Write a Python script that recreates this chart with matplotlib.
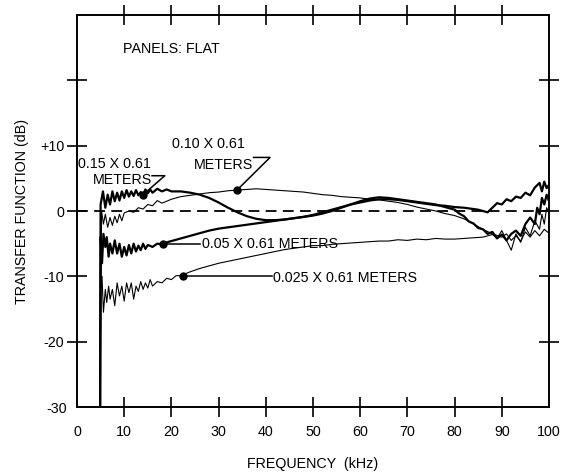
import matplotlib
matplotlib.use("Agg")
import matplotlib.pyplot as plt

plt.rcParams['font.family'] = ['Liberation Sans', 'DejaVu Sans']

# ---------------- data ----------------
# 0.15 x 0.61 m panel (thick)
f_015 = [4.9, 5.0, 5.5, 6.0, 6.5, 7.0, 7.5, 8.0, 8.5, 9.0, 9.5, 10, 10.5, 11, 11.5, 12, 12.5, 13,
         13.5, 14, 14.5, 15, 15.5, 16, 17, 18, 19, 20, 22, 24, 26, 28, 30, 32, 34, 36, 38, 40, 42,
         44, 46, 48, 50, 52, 54, 56, 58, 60, 62, 64, 66, 68, 70, 72, 74, 76, 78, 80, 81, 82, 83,
         84, 85, 86, 87, 88, 89, 90, 91, 92, 93, 94, 95, 96, 97, 97.5, 98, 98.5, 99, 99.5, 100]
v_015 = [-30, 1.0, 3.0, 0.5, 2.5, 1.0, 3.0, 1.5, 2.8, 1.6, 3.0, 2.0, 3.2, 2.2, 3.0, 2.3, 3.2, 2.4,
         2.9, 2.5, 3.3, 2.7, 3.3, 2.8, 3.4, 3.0, 3.3, 3.0, 3.0, 2.8, 2.5, 2.0, 1.3, 0.5, -0.2, -0.8,
         -1.2, -1.4, -1.4, -1.3, -1.1, -0.9, -0.7, -0.4, 0.0, 0.5, 1.0, 1.5, 1.9, 2.1, 2.0, 1.8, 1.6,
         1.4, 1.2, 1.0, 0.6, 0.2, -0.4, -0.8, -1.6, -1.9, -2.6, -2.8, -3.5, -3.2, -4.2, -3.6, -4.5,
         -3.5, -3.0, -3.8, -2.0, -1.0, -2.0, 0.5, -0.5, 2.0, 1.0, 2.5, 1.5]

# 0.10 x 0.61 m panel (thin)
f_010 = [4.9, 5.2, 5.6, 6.0, 6.5, 7.0, 7.5, 8.0, 8.5, 9.0, 9.5, 10, 11, 12, 13, 14, 15, 16, 17, 18,
         20, 22, 24, 26, 28, 30, 32, 34, 36, 38, 40, 42, 44, 46, 48, 50, 52, 54, 56, 58, 60, 62, 64,
         66, 68, 70, 72, 74, 76, 78, 80, 82, 84, 86, 88, 90, 91, 92, 93, 94, 95, 96, 97, 98, 99, 100]
v_010 = [-30, 0.0, -2.0, -0.5, -2.5, -1.0, -2.2, -0.8, -1.8, -0.5, -1.5, -0.3, 0.0, -0.2, 0.5, 0.3,
         1.0, 0.8, 1.6, 1.2, 1.8, 2.2, 2.4, 2.6, 2.8, 2.9, 3.1, 3.2, 3.3, 3.4, 3.3, 3.2, 3.1, 3.0,
         2.9, 2.7, 2.5, 2.4, 2.2, 2.1, 2.0, 1.8, 1.7, 1.5, 1.3, 1.0, 0.6, 0.3, 0.0, -0.4, -0.7, -1.2,
         -2.0, -2.8, -3.5, -4.0, -3.5, -4.5, -3.8, -4.6, -3.2, -4.0, -3.0, -3.8, -2.8, -3.4]

# 0.05 x 0.61 m panel (thick)
f_005 = [4.9, 5.0, 5.3, 5.6, 6.0, 6.3, 6.7, 7.0, 7.5, 8.0, 8.5, 9.0, 9.5, 10, 10.5, 11, 11.5, 12,
         12.5, 13, 13.5, 14, 14.5, 15, 16, 17, 18, 19, 20, 22, 24, 26, 28, 30, 32, 34, 36, 38, 40,
         42, 44, 46, 48, 50, 52, 54, 56, 58, 60, 62, 64, 66, 68, 70, 72, 74, 76, 78, 80, 82, 84, 85,
         86, 87, 88, 89, 90, 91, 92, 93, 94, 95, 96, 97, 98, 98.5, 99, 99.5, 100]
v_005 = [-30, -4.0, -8.0, -3.5, -5.5, -4.0, -7.0, -5.0, -6.5, -4.5, -6.5, -5.0, -7.0, -5.5, -6.8,
         -5.2, -6.5, -5.0, -6.2, -5.3, -6.0, -5.0, -5.8, -5.2, -5.5, -5.0, -5.1, -4.8, -4.6, -4.2,
         -3.8, -3.4, -3.0, -2.7, -2.5, -2.3, -2.1, -1.9, -1.7, -1.5, -1.3, -1.1, -0.9, -0.6, -0.2,
         0.2, 0.6, 1.0, 1.3, 1.6, 1.8, 1.8, 1.7, 1.5, 1.3, 1.1, 0.9, 0.8, 0.6, 0.5, 0.3, 0.2, 0.0,
         -0.2, 0.5, 1.2, 1.0, 1.8, 1.5, 2.2, 2.0, 2.8, 2.4, 3.6, 4.3, 3.0, 4.5, 3.5, 4.0]

# 0.025 x 0.61 m panel (thin)
f_0025 = [4.9, 5.0, 5.3, 5.6, 6.0, 6.3, 6.7, 7.0, 7.5, 8.0, 8.5, 9.0, 9.5, 10, 10.5, 11, 11.5, 12,
          12.5, 13, 13.5, 14, 14.5, 15, 15.5, 16, 17, 18, 19, 20, 21, 22, 24, 26, 28, 30, 32, 34,
          36, 38, 40, 42, 44, 46, 48, 50, 52, 54, 56, 58, 60, 62, 64, 66, 68, 70, 72, 74, 76, 78,
          80, 82, 84, 86, 88, 89, 90, 91, 92, 93, 94, 95, 96, 97, 98, 98.5, 99, 99.5, 100]
v_0025 = [-30, -12.0, -10.0, -15.5, -12.0, -14.0, -11.5, -13.5, -12.0, -14.5, -11.0, -13.0, -11.5,
          -13.8, -11.0, -12.5, -11.0, -13.5, -11.5, -12.3, -10.8, -12.0, -11.0, -11.8, -10.5,
          -11.5, -10.8, -11.0, -10.3, -10.5, -9.9, -9.9, -9.3, -8.8, -8.4, -8.0, -7.7, -7.4, -7.1,
          -6.8, -6.5, -6.2, -5.9, -5.7, -5.5, -5.3, -5.3, -5.1, -5.0, -4.9, -4.8, -4.7, -4.6, -4.6,
          -4.4, -4.5, -4.3, -4.4, -4.2, -4.3, -4.3, -4.2, -4.1, -4.0, -3.6, -4.2, -3.0, -4.5, -6.0,
          -3.5, -4.8, -2.5, -3.8, -1.5, -2.8, -0.5, -2.0, 0.5, -0.3]

# annotated points (marker positions)
dot_x = [14.0, 33.9, 18.3, 22.4]
dot_y = [2.5, 3.2, -5.1, -9.95]
labels = ["0.15 X 0.61", "0.10 X 0.61", "0.05 X 0.61 METERS", "0.025 X 0.61 METERS"]

x_ticks = [10, 20, 30, 40, 50, 60, 70, 80, 90]
x_ticklabels = ["10", "20", "30", "40", "50", "60", "70", "80", "90"]
y_ticks = [-20, -10, 0, 10, 20]
y_ticklabels = ["-20", "-10", "0", "+10", ""]

# ---------------- figure ----------------
fig = plt.figure(figsize=(5.65, 4.73), dpi=100)
ax = fig.add_axes([77/565, 66/473, 472/565, 392/473])
ax.set_xlim(0, 100)
ax.set_ylim(-30, 30)

ax.plot([0, 100], [0, 0], color='black', lw=1.3, dashes=(6, 3.5))

ax.plot(f_0025, v_0025, color='black', lw=0.8)
ax.plot(f_010, v_010, color='black', lw=0.8)
ax.plot(f_005, v_005, color='black', lw=1.6)
ax.plot(f_015, v_015, color='black', lw=1.6)

ax.plot(dot_x, dot_y, 'o', color='black', ms=5)

fs = 10.3
# leaders
ax.plot([dot_x[0], 18.6, 15.9], [dot_y[0], 5.4, 5.4], color='black', lw=1.1)
ax.plot([dot_x[1], 40.9, 37.4], [dot_y[1], 8.2, 8.2], color='black', lw=1.1)
ax.plot([dot_x[2], 26.0], [dot_y[2], dot_y[2]], color='black', lw=1.1)
ax.plot([dot_x[3], 41.3], [dot_y[3], dot_y[3]], color='black', lw=1.1)

ax.text(0.2, 7.2, labels[0], fontsize=fs, ha='left', va='center')
ax.text(15.9, 4.8, "METERS", fontsize=fs, ha='right', va='center')
ax.text(20.1, 10.2, labels[1], fontsize=fs, ha='left', va='center')
ax.text(37.3, 7.1, "METERS", fontsize=fs, ha='right', va='center')
ax.text(26.4, -5.1, labels[2], fontsize=fs, ha='left', va='center')
ax.text(41.6, -10.3, labels[3], fontsize=fs, ha='left', va='center')
ax.text(9.7, 24.8, "PANELS: FLAT", fontsize=fs, ha='left', va='center')

# axes styling
for s in ax.spines.values():
    s.set_linewidth(1.4)

ax.set_xticks(x_ticks)
ax.set_xticklabels(x_ticklabels)
ax.set_yticks(y_ticks)
ax.set_yticklabels(y_ticklabels)
ax.set_xticks([0, 100], minor=True)
ax.set_xticklabels(["0", "100"], minor=True)
ax.set_yticks([-30], minor=True)
ax.set_yticklabels(["-30"], minor=True)

ax.tick_params(which='major', direction='inout', length=14, width=1.2,
               top=True, right=True, labelsize=fs)
ax.tick_params(which='minor', length=0, labelsize=fs)
ax.tick_params(axis='x', which='major', pad=6)
ax.tick_params(axis='x', which='minor', pad=13)
ax.tick_params(axis='y', which='major', pad=2)
ax.tick_params(axis='y', which='minor', pad=7)

ax.set_xlabel("FREQUENCY  (kHz)", fontsize=fs, labelpad=13)
ax.set_ylabel("TRANSFER FUNCTION (dB)", fontsize=fs, labelpad=8)

fig.savefig("out.png", dpi=100)
